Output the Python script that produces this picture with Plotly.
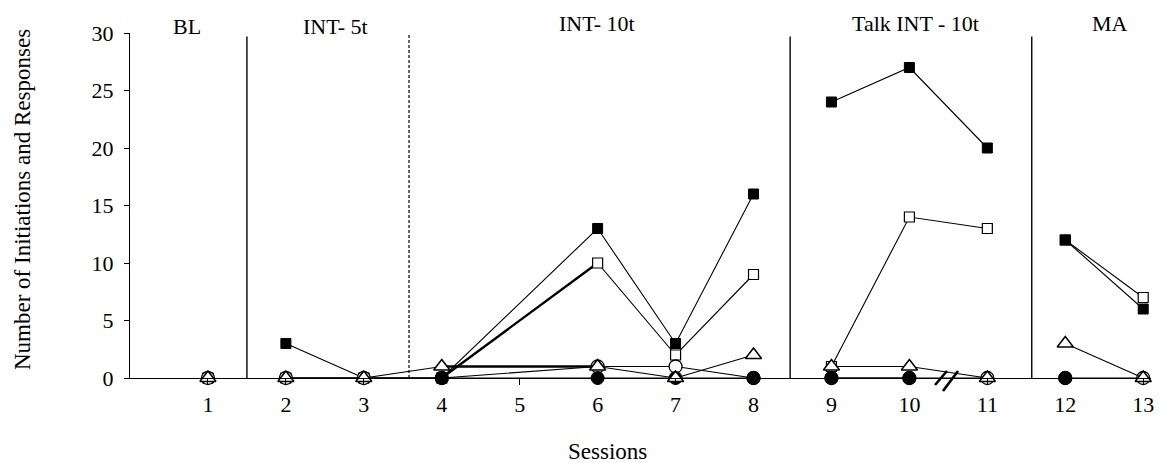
import plotly.graph_objects as go

# ---------------- data ----------------
sessions = [1, 2, 3, 4, 5, 6, 7, 8, 9, 10, 11, 12, 13]
filled_square = [0, 3, 0, 0, None, 13, 3, 16, 24, 27, 20, 12, 6]
open_square = [0, 0, 0, 0, None, 10, 2, 9, 1, 14, 13, 12, 7]
open_circle = [0, 0, 0, 0, None, 1, 1, 0, 0, 0, 0, 0, 0]
filled_circle = [None, None, None, 0, None, 0, 0, 0, 0, 0, None, 0, None]
open_triangle = [0, 0, 0, 1, None, 1, 0, 2, 1, 1, 0, 3, 0]

phase_names = ["BL", "INT- 5t", "INT- 10t", "Talk INT - 10t", "MA"]
phase_groups = [[1], [2, 3, 4, 5, 6, 7, 8], [9, 10, 11], [12, 13]]
y_ticks = [0, 5, 10, 15, 20, 25, 30]

# ---------------- layout constants ----------------
FONT = "Liberation Serif, Times New Roman, serif"
FS = 22
TFS = 23
L, R, T, B = 130, 15, 33, 85
PW, PH = 1166 - L - R, 463 - T - B


def px_x(px):
    return (px - L) / PW


def px_y(py):
    return (463 - B - py) / PH


phase_lines = [(1.5, "solid"), (3.58, "dash"), (8.47, "solid"), (11.57, "solid")]
label_px = [(187, 26), (335, 26), (597, 24), (915, 23), (1110, 23)]

fig = go.Figure()

styles = [
    ("Open square", open_square, dict(symbol="square", size=10, color="white",
                                       line=dict(color="black", width=1.2))),
    ("Filled square", filled_square, dict(symbol="square", size=10, color="black",
                                           line=dict(color="black", width=1))),
    ("Open circle", open_circle, dict(symbol="circle", size=13, color="white",
                                       line=dict(color="black", width=1.3))),
    ("Filled circle", filled_circle, dict(symbol="circle", size=13, color="black",
                                           line=dict(color="black", width=1))),
    ("Open triangle", open_triangle, dict(symbol="triangle-up", size=14, color="white",
                                           line=dict(color="black", width=1.5))),
]

for name, vals, mk in styles:
    for grp in phase_groups:
        xs, ys = [], []
        for s in grp:
            v = vals[sessions.index(s)]
            if v is not None:
                xs.append(s)
                ys.append(v)
        if not xs:
            continue
        # heavier connector between sessions 4 and 6 for two series (as in the original)
        if name in ("Open square", "Open triangle") and 4 in xs and 6 in xs:
            fig.add_trace(go.Scatter(
                x=[4, 6], y=[vals[sessions.index(4)], vals[sessions.index(6)]],
                mode="lines", line=dict(color="black", width=2.4),
                showlegend=False, hoverinfo="skip", cliponaxis=False))
        fig.add_trace(go.Scatter(
            x=xs, y=ys, mode="lines+markers", name=name,
            showlegend=False, line=dict(color="black", width=1.1),
            marker=mk, cliponaxis=False))

# phase change lines
for xv, dash in phase_lines:
    fig.add_shape(type="line", x0=xv, x1=xv, y0=0, y1=29.9 if dash == "dash" else 29.7,
                  xref="x", yref="y",
                  line=dict(color="black", width=1.4 if dash == "solid" else 1.2,
                            dash="solid" if dash == "solid" else "3px,2px"))

# axis break marks "//"
for x0, y0, x1, y1 in [(935, 385, 947, 371), (943, 391, 958, 371)]:
    fig.add_shape(type="line", x0=px_x(x0), x1=px_x(x1), y0=px_y(y0), y1=px_y(y1),
                  xref="paper", yref="paper", line=dict(color="black", width=2.6))

# phase labels
for name, (xp, yp) in zip(phase_names, label_px):
    fig.add_annotation(x=px_x(xp), y=px_y(yp), xref="paper", yref="paper", text=name,
                       showarrow=False, font=dict(family=FONT, size=FS, color="black"),
                       xanchor="center", yanchor="middle")

# axis titles
fig.add_annotation(x=px_x(22), y=px_y(200), xref="paper", yref="paper",
                   text="Number of Initiations and Responses", textangle=-90,
                   showarrow=False, font=dict(family=FONT, size=TFS, color="black"),
                   xanchor="center", yanchor="middle")
fig.add_annotation(x=px_x(607), y=px_y(451), xref="paper", yref="paper", text="Sessions",
                   showarrow=False, font=dict(family=FONT, size=TFS, color="black"),
                   xanchor="center", yanchor="middle")

fig.update_layout(
    width=1166, height=463,
    margin=dict(l=L, r=R, t=T, b=B),
    plot_bgcolor="white", paper_bgcolor="white",
    showlegend=False,
    font=dict(family=FONT, size=FS, color="black"),
    xaxis=dict(range=[0, 13.1], tickvals=sessions, ticktext=[str(s) for s in sessions],
               showgrid=False, zeroline=False, showline=True, linecolor="black",
               linewidth=1.3, ticks="outside", ticklen=6, tickcolor="black",
               tickfont=dict(family=FONT, size=FS, color="black")),
    yaxis=dict(range=[0, 30], tickvals=y_ticks, showgrid=False, zeroline=False,
               showline=True, linecolor="black", linewidth=1.3, ticks="outside",
               ticklen=5, tickcolor="black", ticklabelstandoff=6,
               tickfont=dict(family=FONT, size=FS, color="black")),
)

fig.write_html("out.html")
